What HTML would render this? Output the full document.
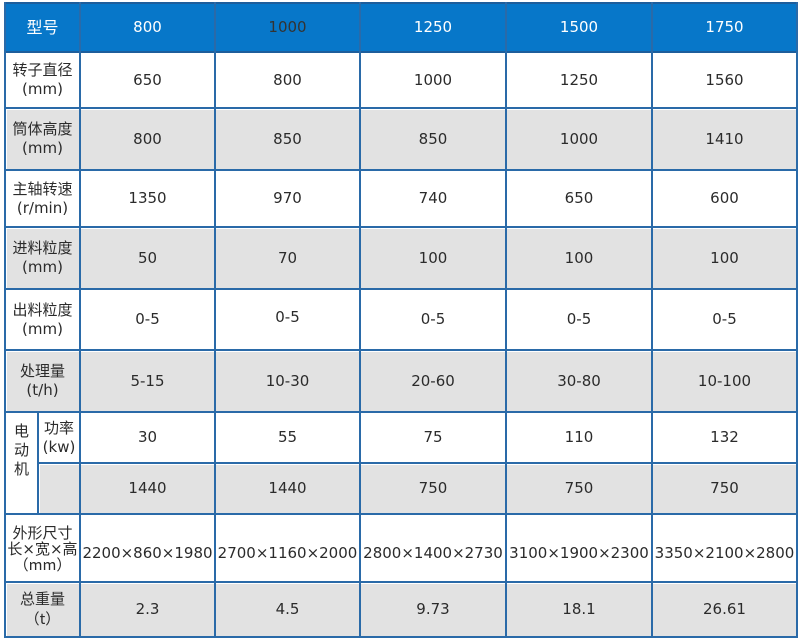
<!DOCTYPE html>
<html><head><meta charset="utf-8">
<style>
html,body{margin:0;padding:0;background:#fff;}
body{width:800px;height:643px;position:relative;overflow:hidden;font-family:"DejaVu Sans","Liberation Sans","Noto Sans CJK SC",sans-serif;font-size:15px;color:#2b2b2b;}
.c{position:absolute;display:flex;align-items:center;justify-content:center;text-align:center;line-height:19px;white-space:nowrap;}
.g{background:#e2e2e2;}
.h{background:#0777c9;}
.hl{position:absolute;height:2px;background:#2a6aa8;}
.vl{position:absolute;width:2px;background:#2a6aa8;}
.cn{font-family:"DejaVu Sans","Noto Sans CJK SC",sans-serif;}
.fw{font-family:"Noto Sans CJK SC",sans-serif;}
.w{color:#fff;}
</style></head><body>

<div class="c h" style="left:5px;top:3px;width:792px;height:49px;"></div>

<div class="c g" style="left:7px;top:110px;width:789px;height:59px;"></div>
<div class="c g" style="left:7px;top:229px;width:789px;height:59px;"></div>
<div class="c g" style="left:7px;top:352px;width:789px;height:59px;"></div>
<div class="c g" style="left:40px;top:465px;width:756px;height:48px;"></div>
<div class="c g" style="left:7px;top:584px;width:789px;height:52px;"></div>

<div class="hl" style="left:4px;width:794px;top:2px;background:#1d5e9c;"></div>
<div class="hl" style="left:4px;width:794px;top:51px;background:#1d5e9c;"></div>
<div class="hl" style="left:4px;width:794px;top:107px;"></div>
<div class="hl" style="left:4px;width:794px;top:169px;"></div>
<div class="hl" style="left:4px;width:794px;top:226px;"></div>
<div class="hl" style="left:4px;width:794px;top:288px;"></div>
<div class="hl" style="left:4px;width:794px;top:349px;"></div>
<div class="hl" style="left:4px;width:794px;top:411px;"></div>
<div class="hl" style="left:38px;width:760px;top:462px;"></div>
<div class="hl" style="left:4px;width:794px;top:513px;"></div>
<div class="hl" style="left:4px;width:794px;top:581px;"></div>
<div class="hl" style="left:4px;width:794px;top:636px;"></div>

<div class="vl" style="left:4px;top:2px;height:636px;"></div>
<div class="vl" style="left:37px;top:411px;height:103px;"></div>
<div class="vl" style="left:79px;top:2px;height:636px;"></div>
<div class="vl" style="left:214px;top:2px;height:636px;"></div>
<div class="vl" style="left:359px;top:2px;height:636px;"></div>
<div class="vl" style="left:505px;top:2px;height:636px;"></div>
<div class="vl" style="left:651px;top:2px;height:636px;"></div>
<div class="vl" style="left:796px;top:2px;height:636px;"></div>

<div class="c w cn" style="left:5px;top:3px;width:75px;height:49px;font-size:16px;">型号</div>
<div class="c w" style="left:80px;top:3px;width:135px;height:49px;">800</div>
<div class="c" style="left:215px;top:3px;width:145px;height:49px;color:#333;">1000</div>
<div class="c w" style="left:360px;top:3px;width:146px;height:49px;">1250</div>
<div class="c w" style="left:506px;top:3px;width:146px;height:49px;">1500</div>
<div class="c w" style="left:652px;top:3px;width:145px;height:49px;">1750</div>

<div class="c cn" style="left:5px;top:52px;width:75px;height:56px;">转子直径<br>(mm)</div>
<div class="c cn" style="left:5px;top:108px;width:75px;height:62px;">筒体高度<br>(mm)</div>
<div class="c cn" style="left:5px;top:170px;width:75px;height:57px;">主轴转速<br>(r/min)</div>
<div class="c cn" style="left:5px;top:227px;width:75px;height:62px;">进料粒度<br>(mm)</div>
<div class="c cn" style="left:5px;top:289px;width:75px;height:61px;">出料粒度<br>(mm)</div>
<div class="c cn" style="left:5px;top:350px;width:75px;height:62px;">处理量<br>(t/h)</div>
<div class="c cn" style="left:5px;top:422px;width:33px;height:20px;display:block;">电<br>动<br>机</div>
<div class="c cn" style="left:38px;top:412px;width:42px;height:51px;">功率<br>(kw)</div>
<div class="c cn" style="left:5px;top:514px;width:75px;height:70px;line-height:16px;"><div>外形尺寸<br>长×宽×高<br><span class="fw">（mm）</span></div></div>
<div class="c cn" style="left:5px;top:582px;width:75px;height:55px;"><div>总重量<br><span class="fw">（t）</span></div></div>

<div class="c" style="left:80px;top:52px;width:135px;height:56px;">650</div>
<div class="c" style="left:215px;top:52px;width:145px;height:56px;">800</div>
<div class="c" style="left:360px;top:52px;width:146px;height:56px;">1000</div>
<div class="c" style="left:506px;top:52px;width:146px;height:56px;">1250</div>
<div class="c" style="left:652px;top:52px;width:145px;height:56px;">1560</div>

<div class="c" style="left:80px;top:108px;width:135px;height:62px;">800</div>
<div class="c" style="left:215px;top:108px;width:145px;height:62px;">850</div>
<div class="c" style="left:360px;top:108px;width:146px;height:62px;">850</div>
<div class="c" style="left:506px;top:108px;width:146px;height:62px;">1000</div>
<div class="c" style="left:652px;top:108px;width:145px;height:62px;">1410</div>

<div class="c" style="left:80px;top:170px;width:135px;height:57px;">1350</div>
<div class="c" style="left:215px;top:170px;width:145px;height:57px;">970</div>
<div class="c" style="left:360px;top:170px;width:146px;height:57px;">740</div>
<div class="c" style="left:506px;top:170px;width:146px;height:57px;">650</div>
<div class="c" style="left:652px;top:170px;width:145px;height:57px;">600</div>

<div class="c" style="left:80px;top:227px;width:135px;height:62px;">50</div>
<div class="c" style="left:215px;top:227px;width:145px;height:62px;">70</div>
<div class="c" style="left:360px;top:227px;width:146px;height:62px;">100</div>
<div class="c" style="left:506px;top:227px;width:146px;height:62px;">100</div>
<div class="c" style="left:652px;top:227px;width:145px;height:62px;">100</div>

<div class="c" style="left:80px;top:289px;width:135px;height:61px;">0-5</div>
<div class="c" style="left:215px;top:289px;width:145px;height:56px;">0-5</div>
<div class="c" style="left:360px;top:289px;width:146px;height:61px;">0-5</div>
<div class="c" style="left:506px;top:289px;width:146px;height:61px;">0-5</div>
<div class="c" style="left:652px;top:289px;width:145px;height:61px;">0-5</div>

<div class="c" style="left:80px;top:350px;width:135px;height:62px;">5-15</div>
<div class="c" style="left:215px;top:350px;width:145px;height:62px;">10-30</div>
<div class="c" style="left:360px;top:350px;width:146px;height:62px;">20-60</div>
<div class="c" style="left:506px;top:350px;width:146px;height:62px;">30-80</div>
<div class="c" style="left:652px;top:350px;width:145px;height:62px;">10-100</div>

<div class="c" style="left:80px;top:412px;width:135px;height:51px;">30</div>
<div class="c" style="left:215px;top:412px;width:145px;height:51px;">55</div>
<div class="c" style="left:360px;top:412px;width:146px;height:51px;">75</div>
<div class="c" style="left:506px;top:412px;width:146px;height:51px;">110</div>
<div class="c" style="left:652px;top:412px;width:145px;height:51px;">132</div>

<div class="c" style="left:80px;top:463px;width:135px;height:51px;">1440</div>
<div class="c" style="left:215px;top:463px;width:145px;height:51px;">1440</div>
<div class="c" style="left:360px;top:463px;width:146px;height:51px;">750</div>
<div class="c" style="left:506px;top:463px;width:146px;height:51px;">750</div>
<div class="c" style="left:652px;top:463px;width:145px;height:51px;">750</div>

<div class="c" style="left:80px;top:514px;width:135px;height:78px;">2200×860×1980</div>
<div class="c" style="left:215px;top:514px;width:145px;height:78px;">2700×1160×2000</div>
<div class="c" style="left:360px;top:514px;width:146px;height:78px;">2800×1400×2730</div>
<div class="c" style="left:506px;top:514px;width:146px;height:78px;">3100×1900×2300</div>
<div class="c" style="left:652px;top:514px;width:145px;height:78px;">3350×2100×2800</div>

<div class="c" style="left:80px;top:582px;width:135px;height:55px;">2.3</div>
<div class="c" style="left:215px;top:582px;width:145px;height:55px;">4.5</div>
<div class="c" style="left:360px;top:582px;width:146px;height:55px;">9.73</div>
<div class="c" style="left:506px;top:582px;width:146px;height:55px;">18.1</div>
<div class="c" style="left:652px;top:582px;width:145px;height:55px;">26.61</div>

</body></html>
